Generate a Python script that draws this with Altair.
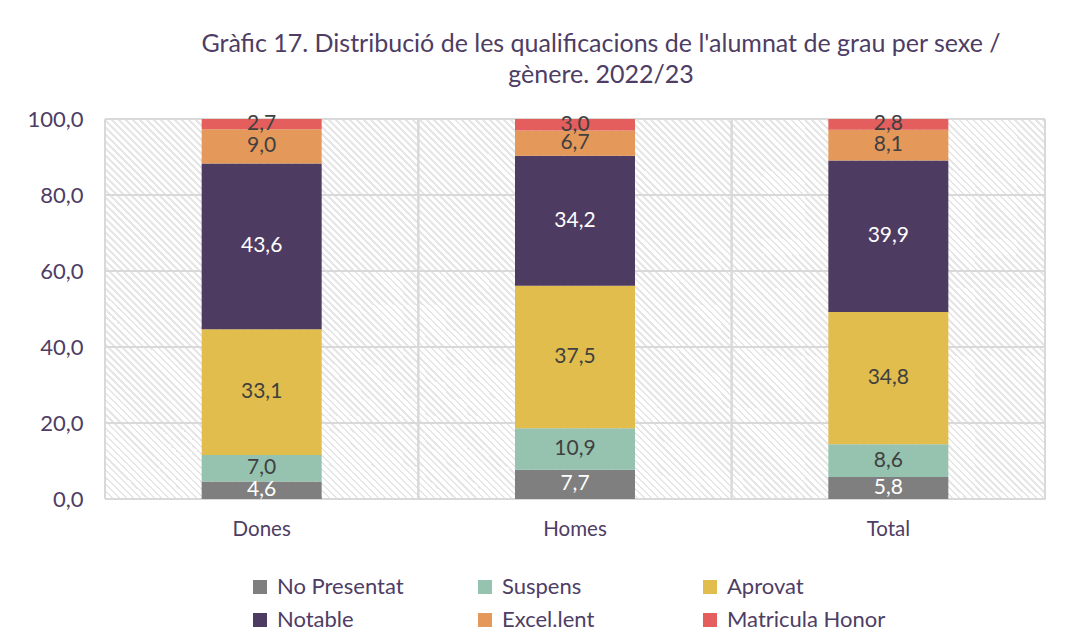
import altair as alt
import pandas as pd

# ---- data ----
groups = ["Dones", "Homes", "Total"]
categories = ["No Presentat", "Suspens", "Aprovat", "Notable", "Excel.lent", "Matricula Honor"]
dones = [4.6, 7.0, 33.1, 43.6, 9.0, 2.7]
homes = [7.7, 10.9, 37.5, 34.2, 6.7, 3.0]
total = [5.8, 8.6, 34.8, 39.9, 8.1, 2.8]
colors = ["#7f7f7f", "#96c3b0", "#e0bd4d", "#4e3b61", "#e4995a", "#e45e5e"]
y_ticks = [0, 20, 40, 60, 80, 100]
title_lines = [
    "Gràfic 17. Distribució de les qualificacions de l'alumnat de grau per sexe /",
    "gènere. 2022/23",
]

rows = []
for g, vals in zip(groups, [dones, homes, total]):
    for i, (c, v) in enumerate(zip(categories, vals)):
        rows.append({"grup": g, "cat": c, "ord": i, "valor": v})
df = pd.DataFrame(rows)

FONT = "Lato"
TXT = "#4e3d64"
GRID = "#d9d9d9"
W, H = 940, 380

# ---- diagonal hatch as a striped gradient (style only) ----
P, LW, D = 7.0, 2.5, W + H
hatch = "#e6e6e6"
stops = []
k = 0
while True:
    a = k * P / D
    b = (k * P + LW) / D
    if b > 1:
        break
    stops += [
        {"offset": a, "color": "#ffffff"},
        {"offset": a, "color": hatch},
        {"offset": b, "color": hatch},
        {"offset": b, "color": "#ffffff"},
    ]
    k += 1
s = (W + H) / (W * W + H * H)
gradient = {
    "gradient": "linear",
    "x1": 0, "y1": 1, "x2": s * W, "y2": 1 - s * H,
    "stops": stops,
}

xscale = alt.Scale(domain=groups, paddingInner=0, paddingOuter=0)
yscale = alt.Scale(domain=[0, 100], nice=False)
xaxis = alt.Axis(title=None, labelAngle=0, ticks=False, domain=False, grid=False,
                 labelFontSize=20.5, labelColor=TXT, labelFont=FONT, labelPadding=20)
yaxis = alt.Axis(title=None, values=y_ticks, ticks=False, domain=False, grid=False,
                 labelExpr="replace(format(datum.value, '.1f'), '.', ',')",
                 labelFontSize=22, labelColor=TXT, labelFont=FONT, labelPadding=22)

bg = alt.Chart(pd.DataFrame({"bg": [0]})).mark_rect(fill=gradient).encode(
    x=alt.value(0), x2=alt.value("width"), y=alt.value(0), y2=alt.value("height")
)

grp_df = pd.DataFrame({"grup": groups})
vrules0 = alt.Chart(grp_df).mark_rule(color=GRID, strokeWidth=2).encode(
    x=alt.X("grup:N", sort=groups, scale=xscale, axis=xaxis, bandPosition=0)
)
vrules1 = alt.Chart(grp_df).mark_rule(color=GRID, strokeWidth=2).encode(
    x=alt.X("grup:N", sort=groups, scale=xscale, axis=xaxis, bandPosition=1)
)
hrules = alt.Chart(pd.DataFrame({"valor": y_ticks})).mark_rule(color=GRID, strokeWidth=2).encode(
    y=alt.Y("valor:Q", scale=yscale, axis=yaxis)
)

base = alt.Chart(df)
bars = base.mark_bar(size=120).encode(
    x=alt.X("grup:N", sort=groups, scale=xscale, axis=xaxis),
    y=alt.Y("valor:Q", stack="zero", scale=yscale, axis=yaxis),
    color=alt.Color(
        "cat:N", sort=categories,
        scale=alt.Scale(domain=categories, range=colors),
        legend=alt.Legend(
            title=None, orient="none", legendX=144, legendY=457, columns=3,
            direction="horizontal", gridAlign="all", symbolType="square",
            symbolSize=196, symbolStrokeWidth=0, labelFontSize=22, labelFont=FONT,
            labelColor=TXT, labelLimit=400, columnPadding=38, rowPadding=11,
            labelOffset=6, padding=0,
        ),
    ),
    order=alt.Order("ord:Q", sort="ascending"),
)

labels = base.transform_stack(
    stack="valor", groupby=["grup"], as_=["y0", "y1"],
    sort=[alt.SortField("ord", "ascending")],
).transform_calculate(
    mid="(datum.y0 + datum.y1) / 2",
    txt="replace(format(datum.valor, '.1f'), '.', ',')",
).mark_text(fontSize=21, font=FONT, baseline="middle").encode(
    x=alt.X("grup:N", sort=groups, scale=xscale, axis=xaxis),
    y=alt.Y("mid:Q", scale=yscale, axis=yaxis),
    text="txt:N",
    color=alt.when("datum.cat == 'Notable' || datum.cat == 'No Presentat'")
    .then(alt.value("#ffffff"))
    .otherwise(alt.value("#404040")),
)

chart = alt.layer(bg, vrules0, vrules1, hrules, bars, labels).properties(
    width=W, height=H,
    padding={"left": 97, "top": 111, "right": 14, "bottom": 135},
    autosize=alt.AutoSizeParams(type="none"),
    title=alt.TitleParams(
        text=title_lines, fontSize=25, font=FONT, color=TXT, fontWeight="normal",
        anchor="middle", dx=26, offset=20, lineHeight=31,
    ),
).configure_view(stroke=None).configure(font=FONT)

chart.save("out.html", embed_options={"renderer": "svg", "actions": False})
